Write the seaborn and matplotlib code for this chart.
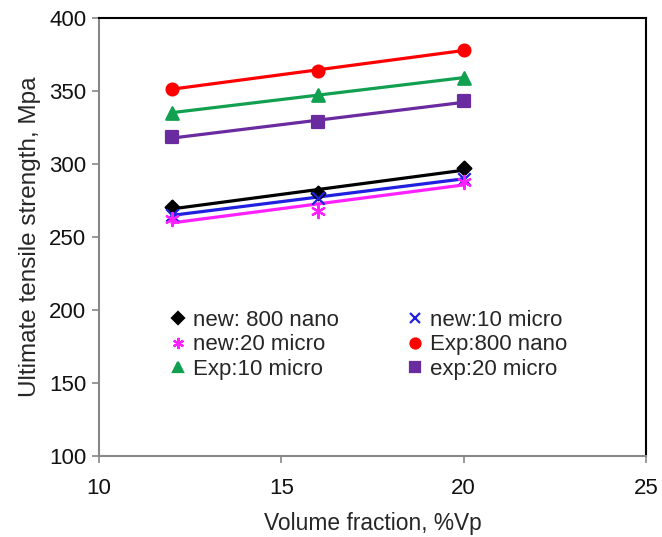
import pandas as pd
import matplotlib
matplotlib.use("Agg")
import matplotlib.pyplot as plt
import seaborn as sns
from matplotlib.lines import Line2D

# data
volume_fraction = [12, 16, 20]
new_800_nano = [270.5, 280, 297]
new_10_micro = [265, 277, 290]
new_20_micro = [262, 268, 288]
exp_800_nano = [351.5, 364, 378]
exp_10_micro = [335, 347.5, 359]
exp_20_micro = [318.5, 328.5, 343]

labels = ["new: 800 nano", "new:10 micro", "new:20 micro",
          "Exp:800 nano", "Exp:10 micro", "exp:20 micro"]
series = [new_800_nano, new_10_micro, new_20_micro,
          exp_800_nano, exp_10_micro, exp_20_micro]
colors = ["#000000", "#2020e0", "#ff20ff", "#ff0000", "#10a050", "#6a2aa0"]
markers = ["D", "x", (6, 2, 0), "o", "^", "s"]
msizes = [7, 9, 9.5, 8.5, 9, 8]

sns.set_style("white")
plt.rcParams['font.family'] = ['Liberation Sans', 'DejaVu Sans']

fig = plt.figure(figsize=(6.62, 5.37), dpi=100)
ax = fig.add_axes([99 / 662, 1 - 456 / 537, (646 - 99) / 662, (456 - 18) / 537])

rows = []
for lab, vals in zip(labels, series):
    for x, y in zip(volume_fraction, vals):
        rows.append({"vf": x, "uts": y, "series": lab})
df = pd.DataFrame(rows)

# straight trend line through each series, markers on top
for lab, col, mk, ms in zip(labels, colors, markers, msizes):
    sub = df[df["series"] == lab]
    sns.regplot(data=sub, x="vf", y="uts", ci=None, scatter=False, color=col,
                line_kws={"linewidth": 2.3}, ax=ax)
    filled = mk not in ("x", (6, 2, 0))
    sns.scatterplot(data=sub, x="vf", y="uts", color=col, marker=mk,
                    s=(ms ** 2), edgecolor=col if filled else None,
                    linewidth=1.6, zorder=3, ax=ax, legend=False)

ax.set_xlim(10, 25)
ax.set_ylim(100, 400)
ax.set_xticks([10, 15, 20, 25])
ax.set_yticks(range(100, 401, 50))
ax.tick_params(axis="both", direction="out", length=5, width=1.2, color="#888888",
               labelsize=16, bottom=True, left=True, labelcolor="#111111")
ax.tick_params(axis="x", pad=11)
ax.tick_params(axis="y", pad=4)
for s in ["left", "bottom"]:
    ax.spines[s].set_color("#888888")
    ax.spines[s].set_linewidth(1.5)
for s in ["top", "right"]:
    ax.spines[s].set_color("#000000")
    ax.spines[s].set_linewidth(1.5)

ax.set_xlabel("Volume fraction, %Vp", fontsize=16.4, labelpad=9)
ax.set_ylabel("Ultimate tensile strength, Mpa", fontsize=17.5, labelpad=6)

# legend fills row by row in the reference: reorder for column-wise filling
order = [0, 2, 4, 1, 3, 5]
handles = [Line2D([], [], linestyle="none", marker=markers[i], color=colors[i],
                  markersize=msizes[i] * 0.85, markeredgewidth=1.6)
           for i in order]
ax.legend(handles, [labels[i] for i in order], ncol=2, frameon=False, fontsize=16,
          loc="upper left", bbox_to_anchor=(0.132, 0.333),
          borderpad=0, borderaxespad=0,
          handlelength=0.6, handletextpad=0.37, columnspacing=3.15,
          labelspacing=0.15)

fig.savefig("out.png", dpi=100)
